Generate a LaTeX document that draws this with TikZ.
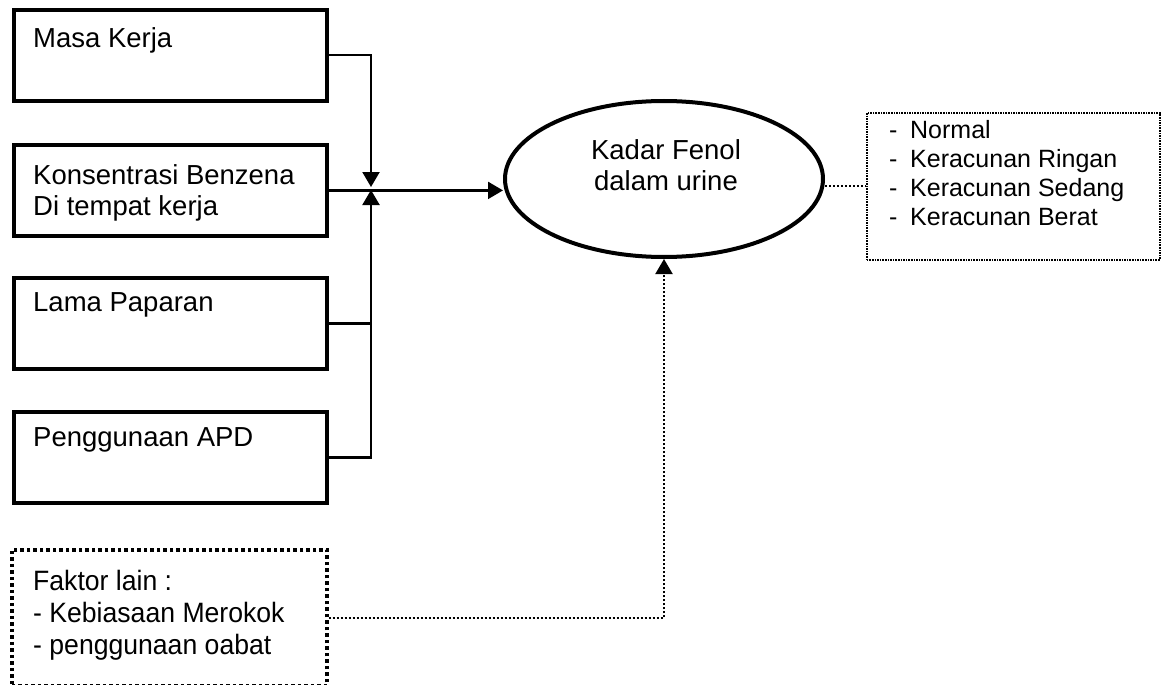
\documentclass[tikz,border=0pt]{standalone}
\usepackage{fontspec}
\setmainfont{Liberation Sans}
\newfontfamily\narrowfont[FakeStretch=0.95]{Liberation Sans}
\usetikzlibrary{shapes.geometric,arrows.meta}
\begin{document}
\begin{tikzpicture}[x=1pt,y=-1pt,
  box/.style={draw,line width=3.8pt,minimum width=313pt,minimum height=91pt,anchor=north west,inner sep=0pt},
  txt/.style={inner sep=0pt,align=left,anchor=west,font=\fontsize{27.5}{31}\selectfont},
  conn/.style={line width=2.2pt},
  tip/.style={-{Triangle[width=17pt,length=15pt]}},
  dots/.style={line width=2pt,dash pattern=on 2pt off 2pt}
]
\useasboundingbox (0,0) rectangle (1163,685);

% left boxes
\node[box] (b1) at (12,8) {};
\node[box] (b2) at (12,143) {};
\node[box] (b3) at (12,276) {};
\node[box] (b4) at (12,410) {};
\node[txt] (t1) at (33,40) {Masa Kerja};
\node[txt] (t2) at (33,192.5) {Konsentrasi Benzena\\Di tempat kerja};
\node[txt] (t3) at (33,305) {Lama Paparan};
\node[txt] (t4) at (33,440) {Penggunaan APD};

% ellipse
\node[ellipse,draw,line width=4pt,minimum width=318pt,minimum height=156pt,inner sep=0pt] (el) at (664,179) {};
\node[txt,anchor=center,align=center] (elt) at (666,165) {Kadar Fenol\\dalam urine};

% right dotted box
\node[draw,line width=1.6pt,dash pattern=on 1.6pt off 1pt,minimum width=293pt,minimum height=147pt,anchor=north west,inner sep=0pt] (rb) at (866,112) {};
\node[txt,font=\fontsize{25}{29}\selectfont] (rbt) at (889,173.5)
  {\makebox[21pt][l]{-}Normal\\\makebox[21pt][l]{-}Keracunan Ringan\\\makebox[21pt][l]{-}Keracunan Sedang\\\makebox[21pt][l]{-}Keracunan Berat};

% faktor lain box
\node[draw,line width=3.5pt,dash pattern=on 3.5pt off 3pt,minimum width=315pt,minimum height=136pt,anchor=north west,inner sep=0pt] (fk) at (10,548) {};
\node[txt,font=\narrowfont\fontsize{28}{32}\selectfont] (fkt) at (33,615)
  {Faktor lain :\\- Kebiasaan Merokok\\- penggunaan oabat};

% junction points
\coordinate (jt) at (371,187);
\coordinate (jb) at (371,190);

% connectors
\draw[conn,tip] (b1.east) -| (jt);
\draw[conn,tip] (b2.east) -- (b2.east -| el.west);
\draw[conn] (b3.east) -- (b3.east -| jb);
\draw[conn,tip] (b4.east) -| (jb);
\draw[dots] (el.east |- rb.west) -- (rb.west);
\draw[dots,tip] (fk.east) -| (el.south);
\end{tikzpicture}
\end{document}
